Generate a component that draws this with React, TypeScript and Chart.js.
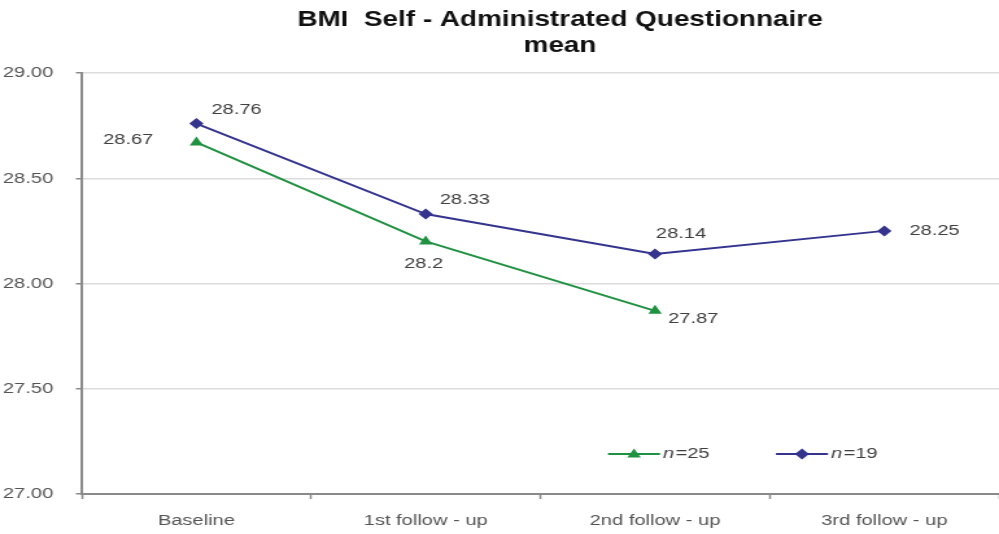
import React, { useEffect, useRef } from 'react';
import { Chart, registerables } from 'chart.js';

Chart.register(...registerables);

// ---------- data ----------
const categories = ['Baseline', '1st follow - up', '2nd follow - up', '3rd follow - up'];
const seriesN25: (number | null)[] = [28.67, 28.2, 27.87, null];
const seriesN19: number[] = [28.76, 28.33, 28.14, 28.25];
const seriesNames = ['n=25', 'n=19'];
const yTickValues = [27, 27.5, 28, 28.5, 29];
const titleLines = ['BMI  Self - Administrated Questionnaire', 'mean'];

// ---------- styling ----------
const CSS_W = 999;
const CSS_H = 534;
const INNER_W = 770; // canvas is drawn narrower and stretched horizontally like the source image
const S = CSS_W / INNER_W;
const GREEN = '#1f9140';
const BLUE = '#34348f';
const FONT = '"Liberation Sans", Arial, Helvetica, sans-serif';

// label offsets in page pixels, per dataset/point
const labelOffsets = [
  [
    { dx: -43, dy: -3, align: 'right' },
    { dx: -2, dy: 22, align: 'center' },
    { dx: 13, dy: 8, align: 'left' },
  ],
  [
    { dx: 15, dy: -14, align: 'left' },
    { dx: 14, dy: -14, align: 'left' },
    { dx: 26, dy: -20, align: 'center' },
    { dx: 25, dy: 0, align: 'left' },
  ],
];

const legendItems = [
  { x0: 608, x1: 660, tx: 663, y: 454, ds: 0 },
  { x0: 776, x1: 828, tx: 831, y: 454, ds: 1 },
];

function drawMarker(ctx: CanvasRenderingContext2D, style: string, x: number, y: number, r: number, color: string) {
  ctx.save();
  ctx.fillStyle = color;
  ctx.beginPath();
  if (style === 'triangle') {
    ctx.moveTo(x, y - r);
    ctx.lineTo(x + r * 0.95, y + r * 0.65);
    ctx.lineTo(x - r * 0.95, y + r * 0.65);
  } else {
    ctx.moveTo(x, y - r);
    ctx.lineTo(x + r, y);
    ctx.lineTo(x, y + r);
    ctx.lineTo(x - r, y);
  }
  ctx.closePath();
  ctx.fill();
  ctx.restore();
}

const annotatePlugin = {
  id: 'annotate',
  afterDatasetsDraw(chart: any) {
    const ctx: CanvasRenderingContext2D = chart.ctx;
    ctx.save();
    // data labels
    ctx.font = `15.5px ${FONT}`;
    ctx.fillStyle = '#404040';
    ctx.textBaseline = 'middle';
    chart.data.datasets.forEach((ds: any, di: number) => {
      const meta = chart.getDatasetMeta(di);
      meta.data.forEach((pt: any, i: number) => {
        const v = ds.data[i];
        if (v === null || v === undefined) return;
        const off = labelOffsets[di][i];
        if (!off) return;
        ctx.textAlign = off.align as CanvasTextAlign;
        ctx.fillText(String(v), pt.x + off.dx / S, pt.y + off.dy);
      });
    });

    // legend inside plot
    legendItems.forEach((it) => {
      const ds = chart.data.datasets[it.ds];
      const color = ds.borderColor;
      ctx.strokeStyle = color;
      ctx.lineWidth = 2;
      ctx.beginPath();
      ctx.moveTo(it.x0 / S, it.y);
      ctx.lineTo(it.x1 / S, it.y);
      ctx.stroke();
      drawMarker(ctx, ds.pointStyle, (it.x0 + it.x1) / 2 / S, it.y, 5.5, color);
      const name = seriesNames[it.ds];
      ctx.textAlign = 'left';
      ctx.fillStyle = '#404040';
      ctx.font = `italic 15.5px ${FONT}`;
      const first = name.charAt(0);
      ctx.fillText(first, it.tx / S, it.y);
      const w = ctx.measureText(first).width;
      ctx.font = `15.5px ${FONT}`;
      ctx.fillText(name.slice(1), it.tx / S + w + 1, it.y);
    });

    // title
    ctx.fillStyle = '#111111';
    ctx.font = `bold 21.5px ${FONT}`;
    ctx.textAlign = 'center';
    ctx.textBaseline = 'alphabetic';
    ctx.fillText(titleLines[0], 560 / S, 26);
    ctx.fillText(titleLines[1], 560 / S, 52);
    ctx.restore();
  },
};

export default function App() {
  const ref = useRef<HTMLCanvasElement | null>(null);

  useEffect(() => {
    if (!ref.current) return;
    const chart = new Chart(ref.current, {
      type: 'line',
      data: {
        labels: categories,
        datasets: [
          {
            label: seriesNames[0],
            data: seriesN25,
            borderColor: GREEN,
            backgroundColor: GREEN,
            borderWidth: 2,
            pointStyle: 'triangle',
            pointRadius: 6,
            pointBorderWidth: 0,
            tension: 0,
            spanGaps: false,
          },
          {
            label: seriesNames[1],
            data: seriesN19,
            borderColor: BLUE,
            backgroundColor: BLUE,
            borderWidth: 2,
            pointStyle: 'rectRot',
            pointRadius: 5.5,
            pointBorderWidth: 0,
            tension: 0,
          },
        ],
      },
      options: {
        responsive: false,
        animation: false,
        devicePixelRatio: 1,
        layout: { autoPadding: false, padding: { top: 73, left: 0, right: 0, bottom: 0 } },
        plugins: {
          legend: { display: false },
          tooltip: { enabled: false },
          title: { display: false },
        },
        scales: {
          x: {
            type: 'category',
            offset: true,
            grid: {
              offset: true,
              drawOnChartArea: false,
              drawTicks: true,
              tickLength: 5,
              tickColor: '#8a8a8a',
              tickWidth: 1.5,
            },
            border: { color: '#8a8a8a', width: 2 },
            ticks: {
              color: '#555555',
              font: { family: FONT, size: 15.5 },
              padding: 12,
              maxRotation: 0,
              autoSkip: false,
            },
            afterFit(scale: any) {
              scale.height = 40;
              scale.paddingLeft = 0;
              scale.paddingRight = 0;
            },
          },
          y: {
            type: 'linear',
            min: 27,
            max: 29,
            grid: {
              color: '#dcdcdc',
              lineWidth: 1.5,
              drawTicks: true,
              tickLength: 4.5,
              tickColor: '#8a8a8a',
              tickWidth: 1.5,
            },
            border: { color: '#8a8a8a', width: 2 },
            ticks: {
              color: '#555555',
              font: { family: FONT, size: 15.5 },
              padding: 17.5,
              callback: (v: any) => Number(v).toFixed(2),
            },
            afterBuildTicks(scale: any) {
              scale.ticks = yTickValues.map((v) => ({ value: v }));
            },
            afterFit(scale: any) {
              scale.width = 63;
            },
          },
        },
      },
      plugins: [annotatePlugin],
    });
    return () => chart.destroy();
  }, []);

  return (
    <div style={{ position: 'absolute', left: 0, top: 0, width: CSS_W, height: CSS_H, background: '#ffffff' }}>
      <canvas
        ref={ref}
        width={INNER_W}
        height={CSS_H}
        style={{ width: `${CSS_W}px`, height: `${CSS_H}px`, display: 'block' }}
      />
    </div>
  );
}
